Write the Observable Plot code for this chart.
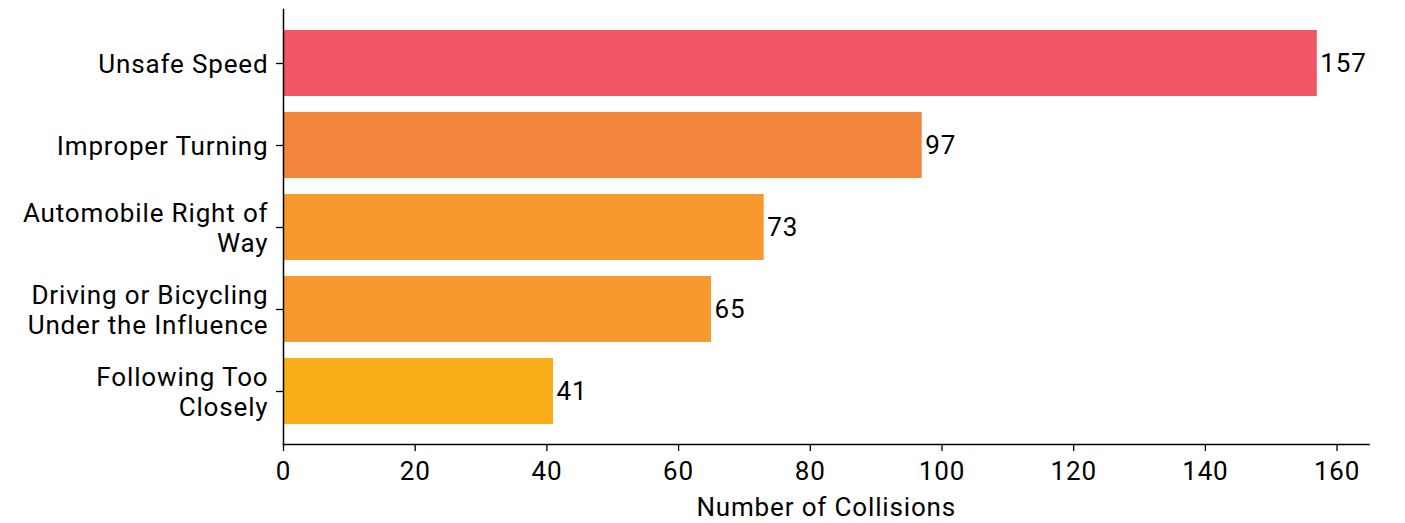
<!DOCTYPE html>
<html>
<head>
<meta charset="utf-8">
<script src="https://cdn.jsdelivr.net/npm/d3@7"></script>
<script src="https://cdn.jsdelivr.net/npm/@observablehq/plot@0.6"></script>
<style>
  html, body { margin: 0; padding: 0; background: #fff; }
  svg text { letter-spacing: 0.85px; }
</style>
</head>
<body>
<div id="chart"></div>
<script>
const categories = [
  "Unsafe Speed",
  "Improper Turning",
  "Automobile Right of\nWay",
  "Driving or Bicycling\nUnder the Influence",
  "Following Too\nClosely"
];
const collisions = [157, 97, 73, 65, 41];
const barColors = ["#F05664", "#F3863C", "#F7992E", "#F7992E", "#FAAE19"];
const xTicks = [0, 20, 40, 60, 80, 100, 120, 140, 160];
const xLabel = "Number of Collisions";

const data = categories.map((c, i) => ({cat: c, value: collisions[i], color: barColors[i]}));

const chart = Plot.plot({
  width: 1405,
  height: 523,
  marginTop: 9,
  marginBottom: 79,
  marginLeft: 283,
  marginRight: 36.5,
  style: {fontFamily: "Roboto", fontSize: "26px", color: "black", background: "white"},
  x: {domain: [0, 164.85]},
  y: {domain: categories, paddingInner: 0.2, paddingOuter: 0.24, align: 0.5},
  marks: [
    Plot.barX(data, {x: "value", y: "cat", fill: "color"}),
    Plot.text(data, {x: "value", y: "cat", text: d => String(d.value), textAnchor: "start", dx: 3, fontSize: 26, fill: "black"}),
    Plot.axisY({tickSize: 7, tickPadding: 8, fontSize: 26, lineHeight: 1.16, label: null, strokeWidth: 1.3}),
    Plot.axisX({ticks: xTicks, tickSize: 7, tickPadding: 10, fontSize: 26, label: xLabel, labelAnchor: "center", labelArrow: "none", labelOffset: 71, strokeWidth: 1.3}),
    Plot.frame({anchor: "left", strokeWidth: 1.5, stroke: "black"}),
    Plot.frame({anchor: "bottom", strokeWidth: 1.5, stroke: "black"})
  ]
});
document.getElementById("chart").appendChild(chart);
</script>
</body>
</html>
